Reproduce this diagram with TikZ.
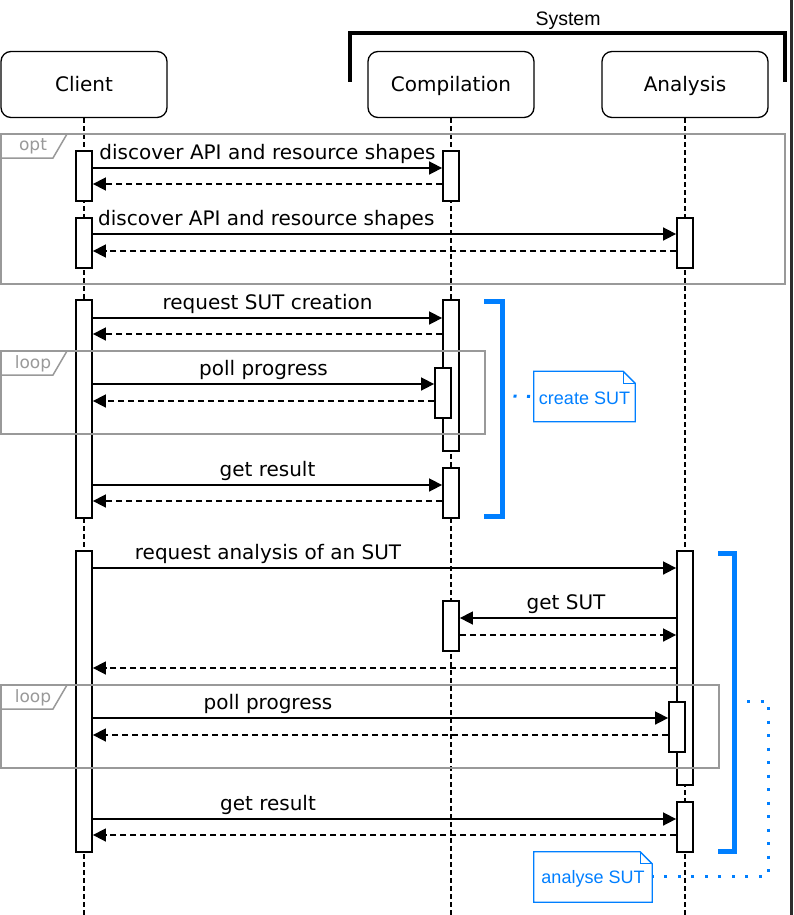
\documentclass[tikz,border=0pt]{standalone}
\usepackage{fontspec}
\setmainfont{DejaVu Sans}
\newfontfamily\arialf{Liberation Sans}
\usetikzlibrary{arrows.meta}
\definecolor{bl}{RGB}{0,127,255}
\definecolor{fr}{RGB}{153,153,153}
\definecolor{edge}{RGB}{45,45,45}
\begin{document}
\begin{tikzpicture}[x=1pt,y=-1pt,
 head/.style={draw, rounded corners=10pt, line width=1.3pt, minimum width=166pt, minimum height=66pt, font=\fontsize{20}{24}\selectfont, inner sep=0pt, text height=14.6pt, text depth=0pt},
 life/.style={line width=1.3pt, dash pattern=on 5pt off 3pt},
 actbar/.style={draw, fill=white, line width=1.8pt, minimum width=16pt, inner sep=0pt},
 frame/.style={draw=fr, line width=1.5pt},
 msg/.style={line width=1.6pt, -{Triangle[length=13pt,width=13pt]}},
 ret/.style={msg, dash pattern=on 6pt off 4pt},
 lbl/.style={font=\fontsize{20}{24}\selectfont, inner sep=0pt, anchor=base},
 tag/.style={font=\fontsize{17}{20}\selectfont, text=fr, inner sep=0pt},
 notebox/.style={minimum width=#1, minimum height=50pt, inner sep=0pt, text=bl, font=\arialf\fontsize{18}{21}\selectfont},
 notedraw/.style={draw=bl, line width=1.3pt, fill=white},
 dotline/.style={draw=bl, line width=3pt, dash pattern=on 3pt off 10.5pt},
 brk/.style={draw=bl, line width=5pt, line join=miter},
]
\useasboundingbox (0,0) rectangle (793,915);
\fill[white] (0,0) rectangle (793,915);
\fill[edge] (790,0) rectangle (793,915);

% System bracket
\node[font=\arialf\fontsize{19.5}{23}\selectfont, inner sep=0pt, anchor=base] (sys) at (568,26) {System};
\draw[line width=4pt, line join=miter] (350,82) -- (350,33) -- (785,33) -- (785,82);

% headers
\node[head] (hcl) at (84,84.5) {Client};
\node[head] (hco) at (451,84.5) {Compilation};
\node[head] (han) at (685,84.5) {Analysis};
\coordinate (ecl) at (84,915);
\coordinate (eco) at (451,915);
\coordinate (ean) at (685,915);
\draw[life] (hcl.south) -- (ecl);
\draw[life] (hco.south) -- (eco);
\draw[life] (han.south) -- (ean);

% activation bars
\node[actbar, minimum height=50pt] (cb1) at (84,176) {};
\node[actbar, minimum height=50pt] (cb2) at (84,243) {};
\node[actbar, minimum height=218pt] (cb3) at (84,409) {};
\node[actbar, minimum height=301pt] (cb4) at (84,701.5) {};
\node[actbar, minimum height=50pt] (cc1) at (451,176) {};
\node[actbar, minimum height=151pt] (cc2) at (451,375.5) {};
\node[actbar, minimum height=50pt] (cn1) at (443,393) {};
\node[actbar, minimum height=50pt] (cc3) at (451,493) {};
\node[actbar, minimum height=50pt] (cc4) at (451,626) {};
\node[actbar, minimum height=50pt] (ca1) at (685,243) {};
\node[actbar, minimum height=234pt] (ca2) at (685,668) {};
\node[actbar, minimum height=50pt] (an1) at (677,727) {};
\node[actbar, minimum height=50pt] (ca3) at (685,827) {};

% frames
\draw[frame] (0.75,134) rectangle (785,284);
\draw[frame] (0.75,134) -- (67,134) -- (53,158) -- (0.75,158);
\node[tag] (topt) at (33,146.5) {opt};
\draw[frame] (0.75,351) rectangle (485,434);
\draw[frame] (0.75,351) -- (67,351) -- (53,375) -- (0.75,375);
\node[tag] (tl1) at (33,364) {loop};
\draw[frame] (0.75,685) rectangle (719,768);
\draw[frame] (0.75,685) -- (67,685) -- (53,709) -- (0.75,709);
\node[tag] (tl2) at (33,698) {loop};

% messages
\draw[msg] (cb1.east |- 0,168) -- (cc1.west |- 0,168);
\node[lbl] (l1) at (267.5,159) {discover API and resource shapes};
\draw[ret] (cc1.west |- 0,184) -- (cb1.east |- 0,184);
\draw[msg] (cb2.east |- 0,234) -- (ca1.west |- 0,234);
\node[lbl, anchor=base west] (l2) at (98,225) {discover API and resource shapes};
\draw[ret] (ca1.west |- 0,251) -- (cb2.east |- 0,251);

\draw[msg] (cb3.east |- 0,318) -- (cc2.west |- 0,318);
\node[lbl] (l3) at (267.5,309) {request SUT creation};
\draw[ret] (cc2.west |- 0,334) -- (cb3.east |- 0,334);
\draw[msg] (cb3.east |- 0,384) -- (cn1.west |- 0,384);
\node[lbl] (l4) at (263.5,375) {poll progress};
\draw[ret] (cn1.west |- 0,401) -- (cb3.east |- 0,401);
\draw[msg] (cb3.east |- 0,485) -- (cc3.west |- 0,485);
\node[lbl] (l5) at (267.5,476) {get result};
\draw[ret] (cc3.west |- 0,501) -- (cb3.east |- 0,501);

\draw[msg] (cb4.east |- 0,568) -- (ca2.west |- 0,568);
\node[lbl] (l6) at (268,559) {request analysis of an SUT};
\draw[msg] (ca2.west |- 0,618) -- (cc4.east |- 0,618);
\node[lbl] (l7) at (566,609) {get SUT};
\draw[ret] (cc4.east |- 0,635) -- (ca2.west |- 0,635);
\draw[ret] (ca2.west |- 0,668) -- (cb4.east |- 0,668);
\draw[msg] (cb4.east |- 0,718) -- (an1.west |- 0,718);
\node[lbl] (l8) at (268,709) {poll progress};
\draw[ret] (an1.west |- 0,735) -- (cb4.east |- 0,735);
\draw[msg] (cb4.east |- 0,819) -- (ca3.west |- 0,819);
\node[lbl] (l9) at (268,810) {get result};
\draw[ret] (ca3.west |- 0,835) -- (cb4.east |- 0,835);

% blue brackets
\draw[brk] (484,301) -- (502,301) -- (502,516) -- (484,516);
\draw[brk] (718,553) -- (734,553) -- (734,851) -- (718,851);

% notes
\node[notebox=101pt] (n1) at (584.5,396.5) {};
\draw[notedraw] (n1.north west) -- ([xshift=-12pt]n1.north east) -- ([yshift=-12pt]n1.north east) -- (n1.south east) -- (n1.south west) -- cycle;
\draw[draw=bl, line width=1.3pt] ([xshift=-12pt]n1.north east) -- ([xshift=-12pt,yshift=-12pt]n1.north east) -- ([yshift=-12pt]n1.north east);
\node[notebox=101pt] (t1) at (584.5,398.5) {create SUT};

\node[notebox=118pt] (n2) at (593,877) {};
\draw[notedraw] (n2.north west) -- ([xshift=-12pt]n2.north east) -- ([yshift=-12pt]n2.north east) -- (n2.south east) -- (n2.south west) -- cycle;
\draw[draw=bl, line width=1.3pt] ([xshift=-12pt]n2.north east) -- ([xshift=-12pt,yshift=-12pt]n2.north east) -- ([yshift=-12pt]n2.north east);
\node[notebox=118pt] (t2) at (593,879) {analyse SUT};

% dotted connectors
\coordinate (d1) at (513.5,396);
\draw[dotline] (d1) -- (n1.west);
\coordinate (d2a) at (747,701);
\coordinate (d2b) at (768,701);
\coordinate (d2c) at (768,876);
\draw[dotline] (d2a) -- (d2b) -- (d2c) -- (n2.east |- d2c);
\end{tikzpicture}
\end{document}
